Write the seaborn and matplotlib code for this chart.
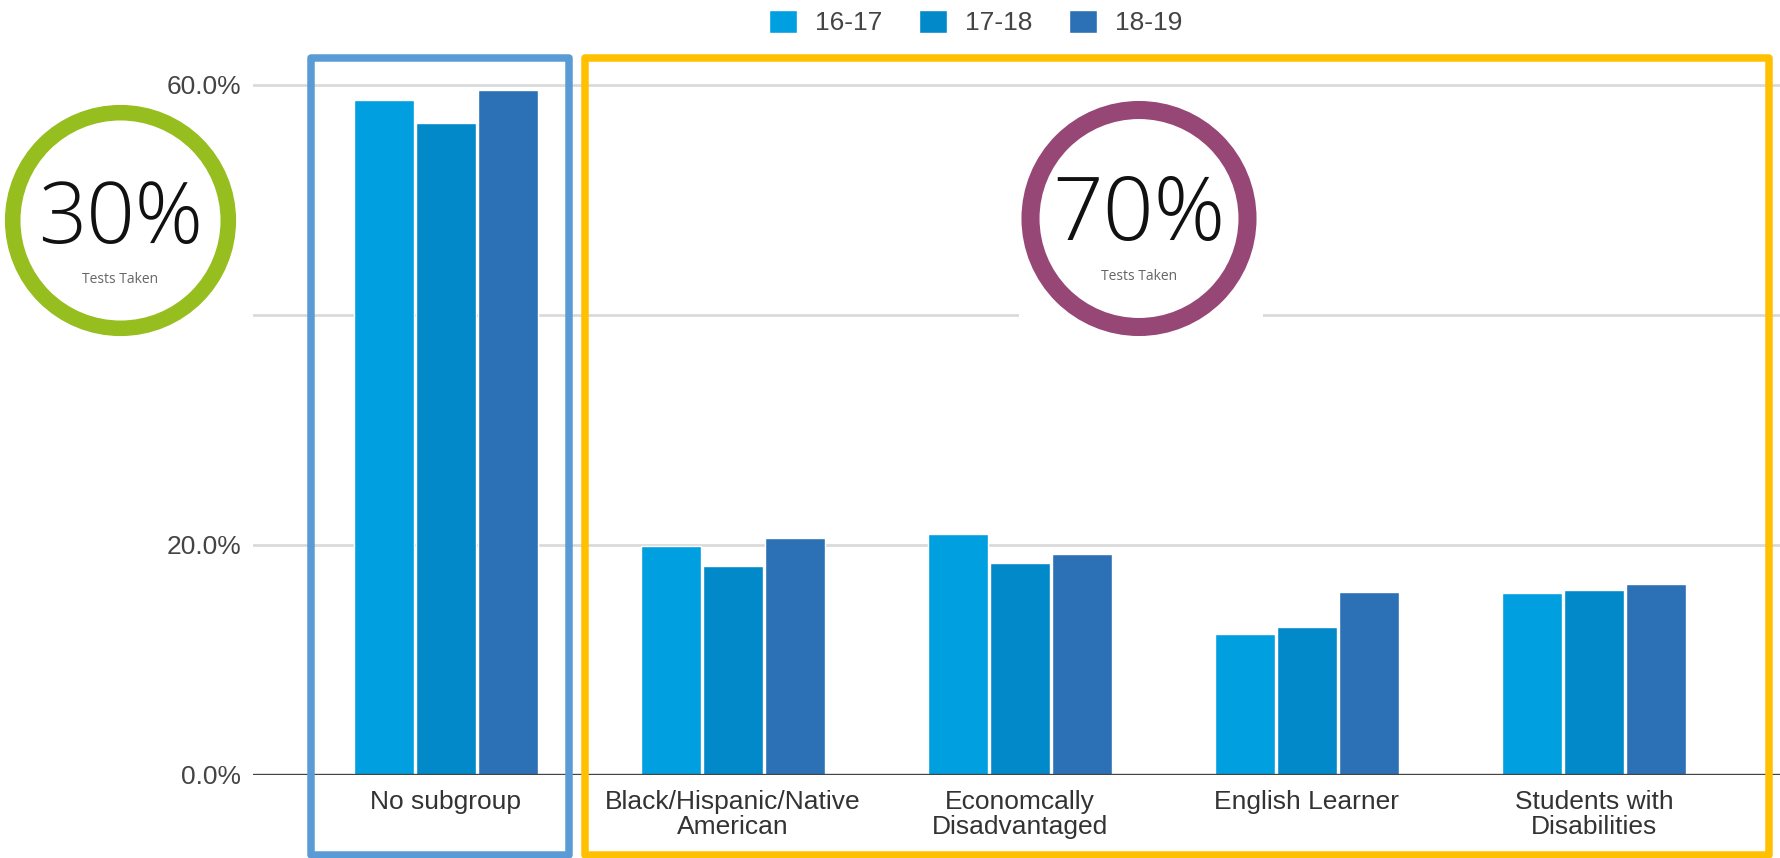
import numpy as np
import matplotlib
matplotlib.use('Agg')
import matplotlib.pyplot as plt
import matplotlib.patches as mpatches
import seaborn as sns
import pandas as pd

# valores (percentual de testes)
subgrupos = ['No subgroup', 'Black/Hispanic/Native\nAmerican', 'Economcally\nDisadvantaged',
             'English Learner', 'Students with\nDisabilities']
anos = ['16-17', '17-18', '18-19']
valores_16_17 = [58.7, 19.9, 21.0, 12.3, 15.8]
valores_17_18 = [56.7, 18.2, 18.4, 12.9, 16.1]
valores_18_19 = [59.6, 20.6, 19.2, 15.9, 16.6]
cores = ['#009fdf', '#0189c9', '#2c71b6']
yticks = [0, 20, 40, 60]
ytick_labels = ['0.0%', '20.0%', '', '60.0%']

df = pd.DataFrame({
    'subgrupo': subgrupos * 3,
    'ano': np.repeat(anos, len(subgrupos)),
    'valor': valores_16_17 + valores_17_18 + valores_18_19,
})

sns.set_theme(style='white')
plt.rcParams['font.family'] = ['Liberation Sans', 'DejaVu Sans']

W, H = 1781, 858
fig = plt.figure(figsize=(W / 100, H / 100), dpi=100)

# eixo: 0% em y=775px, 60% em y=85px
px_por_unid = (775 - 85) / 60
y_top = 62
ax = fig.add_axes([253 / W, 1 - 775 / H, 1 - 253 / W, (y_top * px_por_unid) / H])

sns.barplot(data=df, x='subgrupo', y='valor', hue='ano', palette=cores,
            width=0.65, gap=0.04, ax=ax, saturation=1)

ax.set_xlim(-0.672, 4.652)
ax.set_ylim(0, y_top)
ax.set_yticks(yticks)
ax.set_yticklabels(ytick_labels)
ax.set_xlabel('')
ax.set_ylabel('')
for s in ax.spines.values():
    s.set_visible(False)
ax.grid(axis='y', color='#dadada', linewidth=2)
ax.set_axisbelow(True)
ax.axhline(0, color='#444444', linewidth=1.7, zorder=3)
ax.tick_params(axis='y', length=0, pad=8.5, labelsize=19, labelcolor='#444444')
ax.tick_params(axis='x', length=0, pad=11, labelsize=19, labelcolor='#333333')
for t in ax.get_xticklabels():
    t.set_linespacing(1.05)

sns.move_legend(ax, 'center', bbox_to_anchor=(975.5 / W, 1 - 22.5 / H),
                bbox_transform=fig.transFigure, ncol=3, frameon=False, title=None,
                fontsize=19, handlelength=1.06, handleheight=1.0,
                handletextpad=0.68, columnspacing=1.4)
for t in ax.get_legend().get_texts():
    t.set_color('#444444')

# camada de sobreposicao em pixels (caixas e circulos)
ov = fig.add_axes([0, 0, 1, 1], zorder=10)
ov.set_xlim(0, W)
ov.set_ylim(H, 0)
ov.axis('off')
ov.patch.set_alpha(0)

ov.add_patch(mpatches.Rectangle((311, 58), 569 - 311, 854.5 - 58, fill=False,
                                edgecolor='#5b9bd5', linewidth=5.4, joinstyle='round'))
ov.add_patch(mpatches.Rectangle((585.5, 58), 1769 - 585.5, 854.5 - 58, fill=False,
                                edgecolor='#ffc000', linewidth=5.4, joinstyle='round'))

# fundo branco atras do circulo roxo (corta a linha de 40%)
ov.add_patch(mpatches.Rectangle((1019, 95), 1263 - 1019, 245, facecolor='white', edgecolor='none'))

circulos = [
    ('30%', (120.5, 220.5), 107.8, '#96be1e', 11.2, 243, 61),
    ('70%', (1139, 218.5), 108.5, '#974776', 13.0, 240, 64),
]
for texto, (cx, cy), r, cor, lw, base, tam in circulos:
    ov.add_patch(mpatches.Circle((cx, cy), r, facecolor='white', edgecolor=cor, linewidth=lw))
    ov.text(cx, base, texto, ha='center', va='baseline', fontsize=tam,
            family=['Open Sans', 'DejaVu Sans'], fontweight='light', color='#111111')
    ov.text(cx, base + 40, 'Tests Taken', ha='center', va='baseline', fontsize=10,
            family=['Open Sans', 'DejaVu Sans'], color='#666666')

fig.savefig('out.png', dpi=100)
